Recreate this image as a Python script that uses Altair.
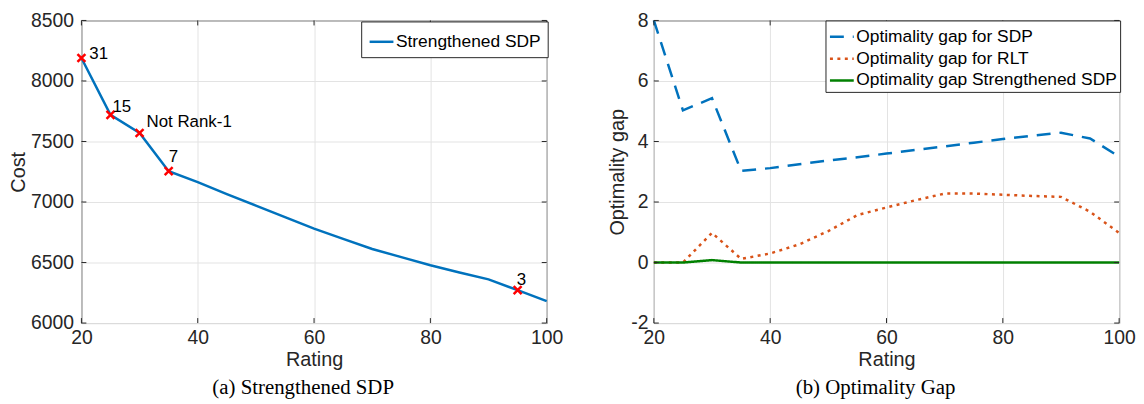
import altair as alt
import pandas as pd

# ---------------- data ----------------
rating_a = [20, 25, 30, 35, 40, 45, 50, 55, 60, 65, 70, 75, 80, 85, 90, 95, 100]
cost_a = [8190, 7720, 7570, 7255, 7165, 7065, 6970, 6875, 6780, 6695, 6612, 6545, 6477, 6418, 6361, 6272, 6181]

marker_rating = [20, 25, 30, 35, 95]
marker_cost = [8190, 7720, 7570, 7255, 6272]
marker_labels = ["31", "15", "Not Rank-1", "7", "3"]

rating_b = [20, 25, 30, 35, 40, 45, 50, 55, 60, 65, 70, 75, 80, 85, 90, 95, 100]
gap_sdp = [8.0, 5.03, 5.43, 3.03, 3.12, 3.25, 3.37, 3.48, 3.6, 3.72, 3.84, 3.96, 4.08, 4.19, 4.29, 4.1, 3.5]
gap_rlt = [0.0, 0.0, 0.98, 0.12, 0.3, 0.6, 1.04, 1.57, 1.82, 2.06, 2.28, 2.28, 2.24, 2.2, 2.17, 1.68, 0.98]
gap_strong = [0.0, 0.0, 0.08, 0.0, 0.0, 0.0, 0.0, 0.0, 0.0, 0.0, 0.0, 0.0, 0.0, 0.0, 0.0, 0.0, 0.0]

series_b = ["Optimality gap for SDP", "Optimality gap for RLT", "Optimality gap Strengthened SDP"]
colors_b = ["#0072BD", "#D95319", "#008000"]
dashes_b = [[14, 9], [3, 4.5], [1, 0]]

x_ticks = [20, 40, 60, 80, 100]
y_ticks_a = [6000, 6500, 7000, 7500, 8000, 8500]
y_ticks_b = [-2, 0, 2, 4, 6, 8]

# annotation offsets (dx, dy)
ann_offsets = {"31": (8, 1), "15": (2, -3), "Not Rank-1": (7, -6), "7": (0, -9), "3": (-1, -5)}

W, H = 469, 305
TK = 5
SANS = "Liberation Sans"
SERIF = "Liberation Serif"
INK = "#262626"

df_a = pd.DataFrame({"Rating": rating_a, "Cost": cost_a, "series": "Strengthened SDP"})
df_m = pd.DataFrame({"Rating": marker_rating, "Cost": marker_cost, "label": marker_labels})

rows = []
for name, vals in zip(series_b, [gap_sdp, gap_rlt, gap_strong]):
    for r, v in zip(rating_b, vals):
        rows.append({"Rating": r, "Gap": v, "series": name})
df_b = pd.DataFrame(rows)

df_xt = pd.DataFrame({"Rating": x_ticks})
df_yta = pd.DataFrame({"Cost": y_ticks_a})
df_ytb = pd.DataFrame({"Gap": y_ticks_b})

x_scale = alt.Scale(domain=[20, 100], nice=False)
x_enc = alt.X("Rating:Q", title="Rating", scale=x_scale,
              axis=alt.Axis(values=x_ticks, labelFlush=False, labelPadding=6, titlePadding=2,
                            labelExpr="datum.value"))


def tick_layers(yfield, df_y):
    out = []
    for xa, xb in [(0, TK), (W - TK, W)]:
        out.append(alt.Chart(df_y).mark_rule(color=INK, strokeWidth=1).encode(
            y=f"{yfield}:Q", x=alt.value(xa), x2=alt.value(xb)))
    for ya, yb in [(H - TK, H), (0, TK)]:
        out.append(alt.Chart(df_xt).mark_rule(color=INK, strokeWidth=1).encode(
            x="Rating:Q", y=alt.value(ya), y2=alt.value(yb)))
    return out


def legend(x, y, pad):
    return alt.Legend(title=None, orient="none", legendX=x, legendY=y,
                      symbolType="stroke", symbolSize=576, symbolStrokeWidth=2.5,
                      labelFontSize=17.5, labelFont=SANS, labelColor="black", labelLimit=500,
                      labelOffset=1, padding=pad, rowPadding=0, strokeColor=INK,
                      fillColor="white", cornerRadius=0)


# ---------------- panel (a) ----------------
line_a = alt.Chart(df_a).mark_line(strokeWidth=2.5).encode(
    x=x_enc,
    y=alt.Y("Cost:Q", title="Cost",
            scale=alt.Scale(domain=[6000, 8500], nice=False, zero=False),
            axis=alt.Axis(values=y_ticks_a, labelPadding=8, titlePadding=2, labelExpr="datum.value")),
    color=alt.Color("series:N",
                    scale=alt.Scale(domain=["Strengthened SDP"], range=["#0072BD"]),
                    legend=legend(282, 1, 7)),
)

marks_a = alt.Chart(df_m).mark_point(
    shape="M-1,-1L1,1M-1,1L1,-1", size=64, stroke="red", strokeWidth=2.5,
    filled=False, opacity=1, clip=False
).encode(x="Rating:Q", y="Cost:Q")

texts = []
for lab in marker_labels:
    dx, dy = ann_offsets[lab]
    texts.append(
        alt.Chart(df_m).transform_filter(alt.datum.label == lab).mark_text(
            align="left", baseline="alphabetic", dx=dx, dy=dy,
            font=SANS, fontSize=17, color="black"
        ).encode(x="Rating:Q", y="Cost:Q", text="label:N")
    )

panel_a = alt.layer(line_a, *tick_layers("Cost", df_yta), marks_a, *texts).properties(
    width=W, height=H,
    title=alt.TitleParams("(a) Strengthened SDP", orient="bottom", font=SERIF, fontSize=21,
                          fontWeight="normal", color="black", anchor="middle",
                          frame="group", dx=-11, offset=8),
)

# ---------------- panel (b) ----------------
leg_b = legend(173, 0, 3)
lines_b = alt.Chart(df_b).mark_line(strokeWidth=2.5).encode(
    x=x_enc,
    y=alt.Y("Gap:Q", title="Optimality gap",
            scale=alt.Scale(domain=[-2, 8], nice=False, zero=False),
            axis=alt.Axis(values=y_ticks_b, labelPadding=6, titlePadding=3, labelExpr="datum.value")),
    color=alt.Color("series:N", scale=alt.Scale(domain=series_b, range=colors_b), legend=leg_b),
    strokeDash=alt.StrokeDash("series:N", scale=alt.Scale(domain=series_b, range=dashes_b), legend=leg_b),
    order=alt.Order("Rating:Q"),
)

panel_b = alt.layer(lines_b, *tick_layers("Gap", df_ytb)).properties(
    width=W, height=H,
    title=alt.TitleParams("(b) Optimality Gap", orient="bottom", font=SERIF, fontSize=21,
                          fontWeight="normal", color="black", anchor="middle",
                          frame="group", dx=-11, offset=8),
)

chart = alt.hconcat(panel_a, panel_b, spacing=44).resolve_scale(
    color="independent", strokeDash="independent", x="independent", y="independent"
).resolve_legend(color="independent", strokeDash="independent").configure(
    padding=0,
    font=SANS,
).configure_view(
    stroke=INK, strokeWidth=1
).configure_axis(
    labelFont=SANS, labelFontSize=19.5, labelColor=INK,
    titleFont=SANS, titleFontSize=20, titleFontWeight="normal", titleColor=INK,
    domain=False, ticks=False, grid=True, gridColor="#e3e3e3", gridWidth=1,
)

chart.save("out.html", embed_options={"renderer": "svg", "actions": False})
